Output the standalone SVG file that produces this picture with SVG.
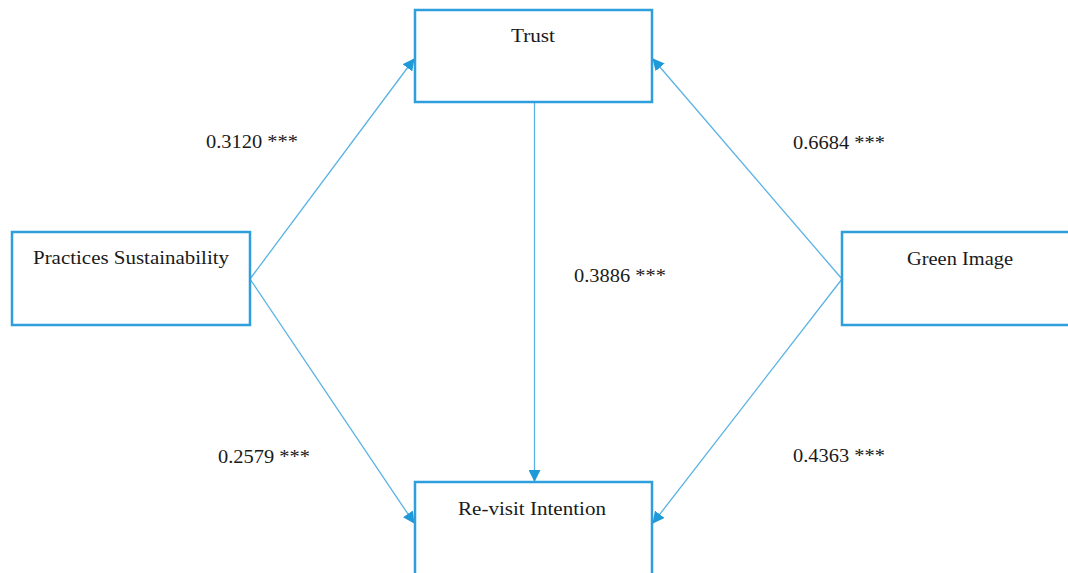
<svg xmlns="http://www.w3.org/2000/svg" width="1068" height="573" viewBox="0 0 1068 573">
<style>
.box{fill:#fff;stroke:#2e9fdc;stroke-width:2.5}
.lbl{font-family:"Liberation Serif","DejaVu Serif","Times New Roman",serif;font-size:18px;fill:#1a1a1a}
.conn{stroke:#5ab2e4;stroke-width:1.3;fill:none;marker-end:url(#ah)}
</style>
<defs>
<marker id="ah" markerWidth="12" markerHeight="12" refX="11" refY="6" orient="auto" markerUnits="userSpaceOnUse">
<path d="M0,0 L12,6 L0,12 z" fill="#1f9ad9"/>
</marker>
</defs>
<rect width="1068" height="573" fill="#fff"/>
<g id="connectors">
<line class="conn" x1="250" y1="279" x2="414" y2="59"/>
<line class="conn" x1="842" y1="279" x2="653" y2="59"/>
<line class="conn" x1="250" y1="279" x2="414" y2="523"/>
<line class="conn" x1="842" y1="279" x2="653" y2="523"/>
<line class="conn" x1="534.5" y1="103" x2="534.5" y2="481"/>
</g>
<g id="labels">
<text class="lbl" x="206" y="148" textLength="92" lengthAdjust="spacingAndGlyphs">0.3120 ***</text>
<text class="lbl" x="793" y="149" textLength="92" lengthAdjust="spacingAndGlyphs">0.6684 ***</text>
<text class="lbl" x="574" y="282" textLength="92" lengthAdjust="spacingAndGlyphs">0.3886 ***</text>
<text class="lbl" x="218" y="463" textLength="92" lengthAdjust="spacingAndGlyphs">0.2579 ***</text>
<text class="lbl" x="793" y="462" textLength="92" lengthAdjust="spacingAndGlyphs">0.4363 ***</text>
</g>
<g id="trust">
<rect class="box" x="415" y="10" width="237" height="92"/>
<text class="lbl" x="511" y="42" textLength="44" lengthAdjust="spacingAndGlyphs">Trust</text>
</g>
<g id="practices">
<rect class="box" x="12" y="232" width="238" height="93"/>
<text class="lbl" x="33" y="264" textLength="196" lengthAdjust="spacingAndGlyphs">Practices Sustainability</text>
</g>
<g id="green">
<rect class="box" x="842" y="232" width="240" height="93"/>
<text class="lbl" x="907" y="265" textLength="106" lengthAdjust="spacingAndGlyphs">Green Image</text>
</g>
<g id="revisit">
<rect class="box" x="415" y="482" width="237" height="100"/>
<text class="lbl" x="458" y="515" textLength="148" lengthAdjust="spacingAndGlyphs">Re-visit Intention</text>
</g>
</svg>
